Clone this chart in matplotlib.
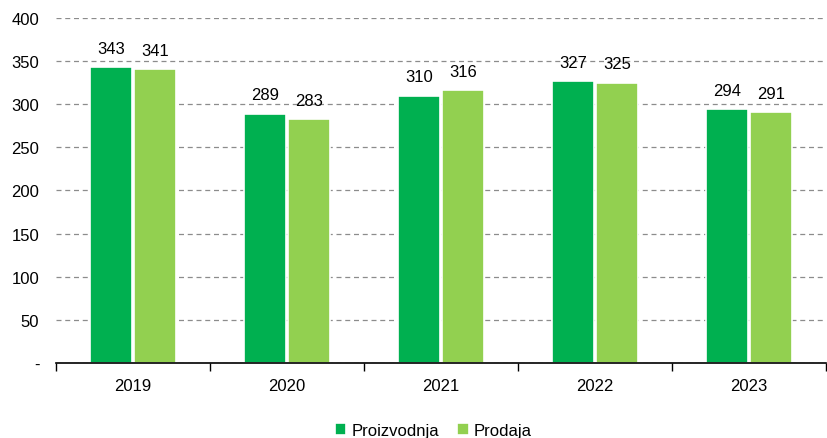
import matplotlib.pyplot as plt
import numpy as np

plt.rcParams['font.family'] = ['Liberation Sans', 'DejaVu Sans']

years = ['2019', '2020', '2021', '2022', '2023']
proizvodnja = [343, 289, 310, 327, 294]
prodaja = [341, 283, 316, 325, 291]
yticks = [0, 50, 100, 150, 200, 250, 300, 350, 400]
ytick_labels = ['-', '50', '100', '150', '200', '250', '300', '350', '400']

dark = '#00B050'
light = '#92D050'

fig = plt.figure(figsize=(8.28, 4.39), dpi=100)
ax = fig.add_axes([0.0676, 0.171, 0.930, 0.786])

x = np.arange(len(years))
w = 0.27
b1 = ax.bar(x - 0.143, proizvodnja, w, color=dark, edgecolor='white', linewidth=1.2, label='Proizvodnja', zorder=3)
b2 = ax.bar(x + 0.143, prodaja, w, color=light, edgecolor='white', linewidth=1.2, label='Prodaja', zorder=3)

for bars, vals in ((b1, proizvodnja), (b2, prodaja)):
    for r, v in zip(bars, vals):
        ax.text(r.get_x() + r.get_width() / 2, v + 13, str(v), ha='center', va='bottom', fontsize=12)

ax.set_xlim(-0.5, len(years) - 0.5)
ax.set_ylim(0, 400)
ax.set_yticks(yticks)
ax.set_yticklabels(ytick_labels, fontsize=12)
ax.tick_params(axis='y', length=0, pad=12)

# category boundaries get the tick marks, labels sit in between
ax.set_xticks(np.arange(-0.5, len(years), 1.0))
ax.set_xticklabels([])
ax.set_xticks(x, minor=True)
ax.set_xticklabels(years, minor=True, fontsize=12)
ax.tick_params(axis='x', which='major', length=6, width=1, direction='out')
ax.tick_params(axis='x', which='minor', length=0, pad=11)

ax.yaxis.grid(True, color='#8c8c8c', linestyle=(0, (4, 3)), linewidth=0.9, zorder=0)
ax.set_axisbelow(True)
for s in ('left', 'right', 'top'):
    ax.spines[s].set_visible(False)
ax.spines['bottom'].set_linewidth(1.2)
ax.spines['bottom'].set_zorder(4)

ax.legend(loc='center', bbox_to_anchor=(0.49, -0.195), ncol=2, frameon=False,
          fontsize=12, handlelength=0.7, handleheight=0.7, handletextpad=0.3, columnspacing=1.1,
          borderpad=0, borderaxespad=0)

fig.savefig('out.png', dpi=100)
